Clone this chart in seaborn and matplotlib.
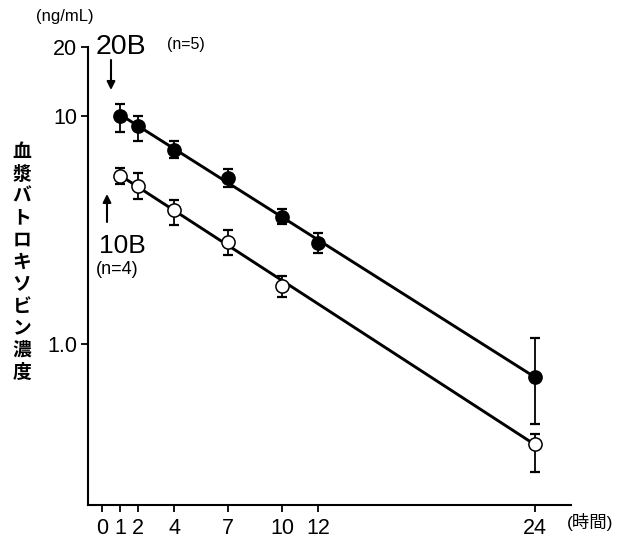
import numpy as np
import pandas as pd
import matplotlib
matplotlib.use("Agg")
import matplotlib.pyplot as plt
import seaborn as sns

sns.set_theme(style="ticks")
plt.rcParams['font.family'] = ['Liberation Sans', 'Noto Sans CJK JP', 'DejaVu Sans']

# ---- data ----
time_20b = [1, 2, 4, 7, 10, 12, 24]
conc_20b = [10.0, 9.04, 7.14, 5.36, 3.62, 2.77, 0.72]
upper_20b = [11.3, 10.0, 7.79, 5.86, 3.91, 3.07, 1.07]
lower_20b = [8.51, 7.79, 6.54, 4.90, 3.36, 2.51, 0.446]

time_10b = [1, 2, 4, 7, 10, 24]
conc_10b = [5.46, 4.95, 3.87, 2.81, 1.80, 0.368]
upper_10b = [5.92, 5.62, 4.28, 3.16, 1.99, 0.406]
lower_10b = [5.03, 4.32, 3.33, 2.46, 1.61, 0.275]

x_ticks = [0, 1, 2, 4, 7, 10, 12, 24]
y_ticks = [1.0, 10, 20]
y_tick_labels = ["1.0", "10", "20"]

W, H = 618, 540
fig = plt.figure(figsize=(W / 100, H / 100), dpi=100)
ax = fig.add_axes([88 / W, 1 - 505 / H, (571 - 88) / W, (505 - 47.4) / H])

def px(x, y):
    return x / W, 1 - y / H

groups = [
    ("20B", time_20b, conc_20b, upper_20b, lower_20b, "black"),
    ("10B", time_10b, conc_10b, upper_10b, lower_10b, "white"),
]

for name, t, c, up, lo, face in groups:
    t = np.array(t, float); c = np.array(c, float)
    up = np.array(up, float); lo = np.array(lo, float)
    # fitted log-linear line
    k, b = np.polyfit(t, np.log10(c), 1)
    tt = np.array([t.min(), t.max()])
    fit = pd.DataFrame({"t": tt, "c": 10 ** (k * tt + b)})
    sns.lineplot(data=fit, x="t", y="c", ax=ax, color="black", lw=2.1, zorder=2)
    ax.errorbar(t, c, yerr=[c - lo, up - c], fmt="none", ecolor="black",
                elinewidth=1.3, capsize=3.5, capthick=1.6, zorder=3)
    df = pd.DataFrame({"t": t, "c": c})
    sns.scatterplot(data=df, x="t", y="c", ax=ax, s=90, color=face,
                    edgecolor="black", linewidth=1.1, zorder=4)

ax.set_yscale("log")
ax.set_ylim(0.198, 20)
ax.set_xlim(-0.78, 26)
ax.set_yticks(y_ticks)
ax.set_yticklabels(y_tick_labels)
ax.yaxis.set_minor_locator(matplotlib.ticker.NullLocator())
ax.set_xticks(x_ticks)
ax.set_xticklabels([str(v) for v in x_ticks])
ax.tick_params(axis="both", labelsize=15.5, length=5, width=1.3, color="black",
               labelcolor="black", direction="out")
ax.tick_params(axis="x", pad=4)
ax.tick_params(axis="y", pad=3)
ax.set_xlabel("")
ax.set_ylabel("")
for s in ["top", "right"]:
    ax.spines[s].set_visible(False)
for s in ["left", "bottom"]:
    ax.spines[s].set_color("black")
    ax.spines[s].set_linewidth(1.5)

# annotations
fig.text(*px(65, 17), "(ng/mL)", ha="center", va="center", fontsize=12, color="black")
fig.text(*px(96, 47), "20B", ha="left", va="center", fontsize=20.5, color="black")
fig.text(*px(167, 45), "(n=5)", ha="left", va="center", fontsize=11.5, color="black")
fig.text(*px(99, 246), "10B", ha="left", va="center", fontsize=19, color="black")
fig.text(*px(96, 270), "(n=4)", ha="left", va="center", fontsize=13, color="black")
fig.text(*px(590, 522), "(時間)", ha="center", va="center", fontsize=12.5, color="black")

ax.annotate("", xy=px(111, 90), xycoords="figure fraction",
            xytext=px(111, 60), textcoords="figure fraction",
            arrowprops=dict(arrowstyle="-|>", color="black", lw=1.5,
                            mutation_scale=12, shrinkA=0, shrinkB=0))
ax.annotate("", xy=px(107, 194), xycoords="figure fraction",
            xytext=px(107, 222), textcoords="figure fraction",
            arrowprops=dict(arrowstyle="-|>", color="black", lw=1.5,
                            mutation_scale=12, shrinkA=0, shrinkB=0))

ylab = "血漿バトロキソビン濃度"
fig.text(*px(22, 262), "\n".join(ylab), ha="center", va="center",
         fontsize=13.5, fontweight="bold", color="black",
         family=["Noto Sans CJK JP", "DejaVu Sans"], linespacing=1.2)

fig.savefig("out.png", dpi=100)
